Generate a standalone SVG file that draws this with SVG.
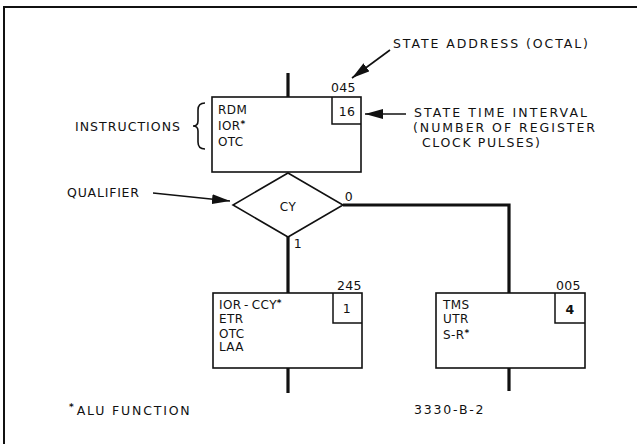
<svg xmlns="http://www.w3.org/2000/svg" width="637" height="444" viewBox="0 0 637 444">
<style>
text{font-family:"DejaVu Sans","Liberation Sans",sans-serif;fill:#111;}
.bt{font-size:12px;letter-spacing:0.4px;}
.lb{font-size:12.5px;}
.num{font-size:12.5px;letter-spacing:0.3px;}
.sup{font-size:9px;font-weight:bold;}
.box{fill:#fff;stroke:#111;stroke-width:1.6;}
.tbox{fill:none;stroke:#111;stroke-width:1.5;}
.wire{fill:none;stroke:#111;stroke-width:3.2;}
.ptr{fill:none;stroke:#111;stroke-width:1.6;}
.frame{fill:none;stroke:#111;stroke-width:2;}
</style>
<defs>
<marker id="ah" markerUnits="userSpaceOnUse" markerWidth="18" markerHeight="10" refX="18" refY="5" orient="auto">
<path d="M0,0 L18,5 L0,10 z" fill="#111"/>
</marker>
</defs>
<rect width="637" height="444" fill="#fff"/>
<path class="frame" d="M4,444 L4,7 L637,7"/>

<g id="connectors">
<line class="wire" x1="288" y1="73" x2="288" y2="97"/>
<line class="wire" x1="288" y1="237" x2="288" y2="293"/>
<polyline class="wire" points="343,205 509,205 509,293"/>
<line class="wire" x1="288" y1="368" x2="288" y2="393"/>
<line class="wire" x1="509" y1="368" x2="509" y2="391"/>
</g>

<g id="state045">
<rect class="box" x="212" y="97" width="149" height="75"/>
<path class="tbox" d="M332,97 L332,124 L361,124"/>
<text class="num" x="347" y="116" text-anchor="middle">16</text>
<text class="num" x="331" y="92">045</text>
<text class="bt" x="218" y="114">RDM</text>
<text class="bt" x="218" y="130">IOR<tspan class="sup" dy="-3">*</tspan></text>
<text class="bt" x="218" y="146">OTC</text>
</g>

<g id="qualifier">
<polygon class="box" points="288,173 343,205 288,237 233,205"/>
<text class="bt" x="288" y="211" text-anchor="middle">CY</text>
<text class="num" x="349" y="201" text-anchor="middle">0</text>
<text class="num" x="298" y="248" text-anchor="middle">1</text>
</g>

<g id="state245">
<rect class="box" x="213" y="293" width="149" height="75"/>
<path class="tbox" d="M333,293 L333,323 L362,323"/>
<text class="num" x="347" y="313" text-anchor="middle">1</text>
<text class="num" x="337" y="290">245</text>
<text class="bt" x="219" y="309">IOR<tspan dx="3">-</tspan><tspan dx="3">CCY</tspan><tspan class="sup" dy="-3">*</tspan></text>
<text class="bt" x="219" y="323">ETR</text>
<text class="bt" x="219" y="338">OTC</text>
<text class="bt" x="219" y="351">LAA</text>
</g>

<g id="state005">
<rect class="box" x="436" y="293" width="149" height="75"/>
<path class="tbox" d="M555,293 L555,323 L585,323"/>
<text class="num" x="570" y="314" text-anchor="middle" font-weight="bold">4</text>
<text class="num" x="556" y="290">005</text>
<text class="bt" x="443" y="309">TMS</text>
<text class="bt" x="443" y="323">UTR</text>
<text class="bt" x="443" y="339">S-R<tspan class="sup" dy="-3">*</tspan></text>
</g>

<g id="annotations">
<text class="lb" x="393" y="48" textLength="195" lengthAdjust="spacing">STATE ADDRESS (OCTAL)</text>
<line class="ptr" x1="390" y1="50" x2="352" y2="78" marker-end="url(#ah)"/>
<text class="lb" x="414" y="117" textLength="173" lengthAdjust="spacing">STATE TIME INTERVAL</text>
<text class="lb" x="413" y="132" textLength="182" lengthAdjust="spacing">(NUMBER OF REGISTER</text>
<text class="lb" x="422" y="147" textLength="118" lengthAdjust="spacing">CLOCK PULSES)</text>
<line class="ptr" x1="406" y1="114" x2="365" y2="114" marker-end="url(#ah)"/>
<text class="lb" x="75" y="131" textLength="105" lengthAdjust="spacing">INSTRUCTIONS</text>
<path class="ptr" d="M205,103 Q198,103 198,110 L198,121 Q198,126 193,126 Q198,126 198,131 L198,142 Q198,149 205,149"/>
<text class="lb" x="67" y="197" textLength="72" lengthAdjust="spacing">QUALIFIER</text>
<line class="ptr" x1="153" y1="193" x2="230" y2="201" marker-end="url(#ah)"/>
<text class="lb" x="69" y="415"><tspan class="sup" dy="-5">*</tspan><tspan dx="3" dy="5" textLength="113" lengthAdjust="spacing">ALU FUNCTION</tspan></text>
<text class="lb" x="414" y="414" letter-spacing="1.8">3330-B-2</text>
</g>
</svg>
